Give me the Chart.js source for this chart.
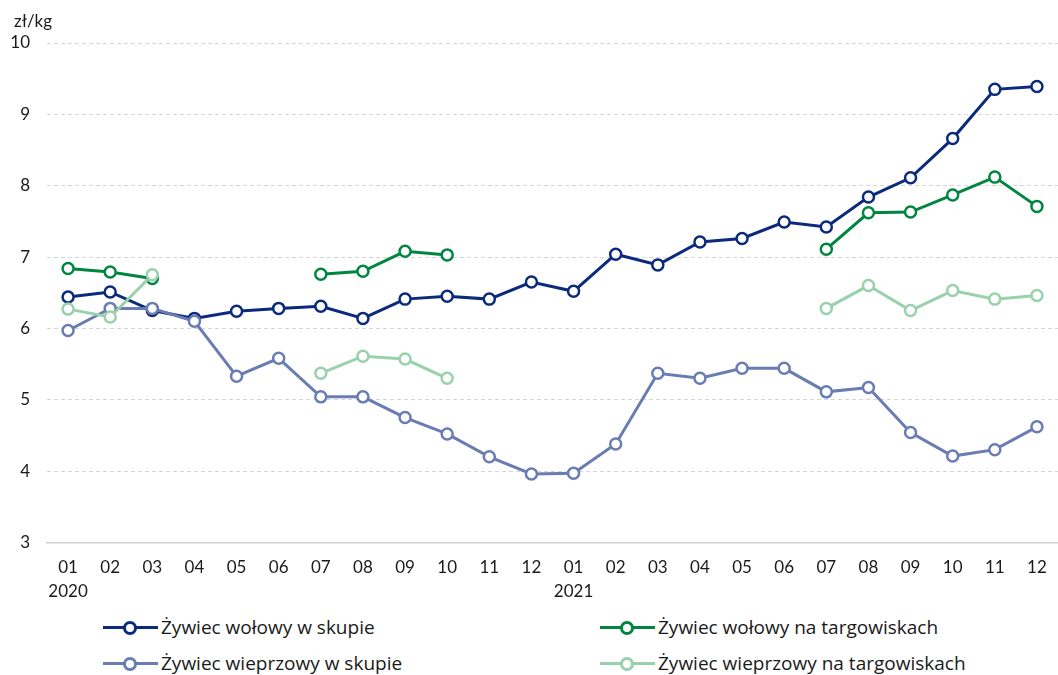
<!DOCTYPE html>
<html>
<head>
<meta charset="utf-8">
<script src="https://cdn.jsdelivr.net/npm/chart.js@4.4.1/dist/chart.umd.min.js"></script>
<style>
  html, body { margin: 0; padding: 0; background: #fff; overflow: hidden; }
  #wrap { position: relative; width: 1066px; height: 608px; }
  #legend { position: absolute; left: 0; top: 612px; width: 1058px; font-family: "Open Sans", sans-serif; font-size: 19px; color: #1a1a1a; }
  .item { position: absolute; display: flex; align-items: center; height: 30px; }
  .mk { position: relative; width: 55px; height: 20px; margin-right: 3px; }
  .mk .ln { position: absolute; left: 0; right: 0; top: 8.5px; height: 3px; }
  .mk .dot { position: absolute; left: 20px; top: 3.5px; width: 8px; height: 8px; border-radius: 50%; background: #fff; border: 3px solid; }
</style>
</head>
<body>
<div id="wrap"><canvas id="myChart"></canvas></div>
<div id="legend"></div>
<script>
var miesiace = ['01','02','03','04','05','06','07','08','09','10','11','12',
                '01','02','03','04','05','06','07','08','09','10','11','12'];
var lata = ['2020', '2021'];

var wolowySkup = [6.44, 6.51, 6.25, 6.14, 6.24, 6.28, 6.31, 6.14, 6.41, 6.45, 6.41, 6.65,
                  6.52, 7.04, 6.89, 7.21, 7.26, 7.49, 7.42, 7.84, 8.11, 8.66, 9.35, 9.39];
var wolowyTarg = [6.84, 6.79, 6.70, null, null, null, 6.76, 6.80, 7.08, 7.03, null, null,
                  null, null, null, null, null, null, 7.11, 7.62, 7.63, 7.87, 8.12, 7.71];
var wieprzowySkup = [5.97, 6.28, 6.28, 6.10, 5.33, 5.58, 5.04, 5.04, 4.75, 4.52, 4.20, 3.96,
                     3.97, 4.38, 5.37, 5.30, 5.44, 5.44, 5.11, 5.17, 4.54, 4.21, 4.30, 4.62];
var wieprzowyTarg = [6.27, 6.16, 6.75, null, null, null, 5.37, 5.61, 5.57, 5.30, null, null,
                     null, null, null, null, null, null, 6.28, 6.60, 6.25, 6.53, 6.41, 6.46];

var nazwy = ['Żywiec wołowy w skupie', 'Żywiec wołowy na targowiskach',
             'Żywiec wieprzowy w skupie', 'Żywiec wieprzowy na targowiskach'];
var kolory = ['#0b2a7d', '#008640', '#6a7db3', '#99d1ad'];

var FONT = 'Lato, sans-serif';

var etykiety = miesiace.map(function(m, i) {
    if (i % 12 === 0) return [m, lata[i / 12]];
    return m;
});

function zestaw(i, dane) {
    return {
        label: nazwy[i],
        data: dane,
        borderColor: kolory[i],
        backgroundColor: '#ffffff',
        pointBackgroundColor: '#ffffff',
        pointBorderColor: kolory[i],
        borderWidth: 3,
        pointRadius: 5.5,
        pointBorderWidth: 2.5,
        tension: 0,
        spanGaps: false
    };
}

var jednostka = {
    id: 'jednostka',
    afterDraw: function(chart) {
        var ctx = chart.ctx;
        ctx.save();
        ctx.font = '17px ' + FONT;
        ctx.fillStyle = '#1a1a1a';
        ctx.textBaseline = 'middle';
        ctx.fillText('zł/kg', 14, 22);
        ctx.restore();
    }
};

var ctx = document.getElementById('myChart').getContext('2d');
var wykres = new Chart(ctx, {
    type: 'line',
    data: {
        labels: etykiety,
        // kolejnosc rysowania: wieprzowe pod spodem
        datasets: [
            zestaw(3, wieprzowyTarg),
            zestaw(2, wieprzowySkup),
            zestaw(1, wolowyTarg),
            zestaw(0, wolowySkup)
        ]
    },
    options: {
        responsive: true,
        maintainAspectRatio: false,
        animation: false,
        layout: { padding: { top: 43, right: 0, bottom: 0, left: 0 } },
        plugins: {
            legend: { display: false },
            tooltip: { enabled: false }
        },
        scales: {
            x: {
                offset: true,
                grid: { display: false },
                border: { display: true, color: '#d0d0d0', width: 1.5 },
                ticks: {
                    color: '#1a1a1a',
                    font: { family: FONT, size: 17, lineHeight: 1.4 },
                    padding: 5,
                    maxRotation: 0,
                    autoSkip: false
                }
            },
            y: {
                min: 3,
                max: 10,
                afterFit: function(scale) { scale.width = 47; },
                grid: { color: '#d6d6d6', lineWidth: 1, drawTicks: false },
                border: { display: false, dash: [4, 3] },
                ticks: {
                    stepSize: 1,
                    color: '#1a1a1a',
                    font: { family: FONT, size: 17 },
                    padding: 17
                }
            }
        }
    },
    plugins: [jednostka]
});

// legenda w HTML (2 kolumny)
var legenda = document.getElementById('legend');
var pozycje = [[103, 0], [600, 0], [103, 36], [600, 36]];
nazwy.forEach(function(n, i) {
    var el = document.createElement('div');
    el.className = 'item';
    el.style.left = pozycje[i][0] + 'px';
    el.style.top = pozycje[i][1] + 'px';
    el.innerHTML = '<div class="mk"><div class="ln" style="background:' + kolory[i] + '"></div>' +
        '<div class="dot" style="border-color:' + kolory[i] + '"></div></div><span>' + n + '</span>';
    legenda.appendChild(el);
});
</script>
</body>
</html>
